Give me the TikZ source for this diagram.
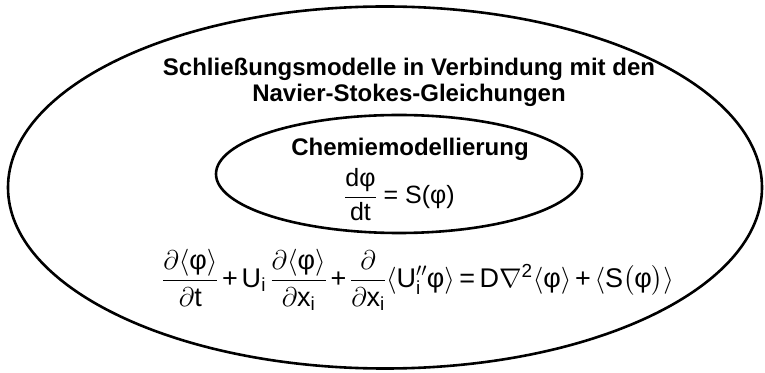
\RequirePackage{fix-cm}
\documentclass[tikz,border=0pt]{standalone}
\usepackage{amsmath}
\usepackage{fontspec}
\setmainfont{Liberation Sans}
\usetikzlibrary{shapes.geometric}
\newcommand{\rmt}[1]{\text{#1}}
\newcommand{\pl}{\mathbin{\rmt{+}}}
\newcommand{\eqs}{\mathrel{\rmt{=}}}
\newcommand{\tight}{\medmuskip=2.5mu\relax\thickmuskip=3mu\relax}

\begin{document}
\begin{tikzpicture}[x=1pt, y=1pt,
        every node/.style={inner sep=0pt},
        ring/.style={draw=black, line width=2.6pt, ellipse, minimum width=#1},
        headline/.style={font=\bfseries\fontsize{24}{26}\selectfont, align=center},
        formula/.style={anchor=base, font=\fontsize{#1}{#1}\selectfont}]
      \useasboundingbox (0,0) rectangle (765,372);
      \node[ring=754pt, minimum height=362pt] (outer) at (385,184.5) {};
      \node[ring=366pt, minimum height=118pt] (inner) at (399,198) {};
      \node[headline] (closure) at (409,289.25) {Schließungsmodelle in Verbindung mit den\\Navier-Stokes-Gleichungen};
      \node[headline, anchor=base] (chem) at (410,216) {Chemiemodellierung};
      \node[formula=25] (chemeq) at (399.5,168.75)
        {$\dfrac{\rmt{dφ}}{\rmt{dt}} \eqs \rmt{S(φ)}$};
      \node[formula=27] (transport) at (418,84.5)
        {$\tight\dfrac{\partial\langle\rmt{φ}\rangle}{\partial\rmt{t}}
          \pl \rmt{U}_{\rmt{i}}\,\dfrac{\partial\langle\rmt{φ}\rangle}{\partial\rmt{x}_{\rmt{i}}}
          \pl \dfrac{\partial}{\partial\rmt{x}_{\rmt{i}}}\langle\rmt{U}''_{\rmt{i}}\rmt{φ}\rangle
          \eqs \rmt{D}\nabla^{\rmt{2}}\langle\rmt{φ}\rangle
          \pl \langle\rmt{S}\big(\rmt{φ}\big)\rangle$};
    \end{tikzpicture}
\end{document}
